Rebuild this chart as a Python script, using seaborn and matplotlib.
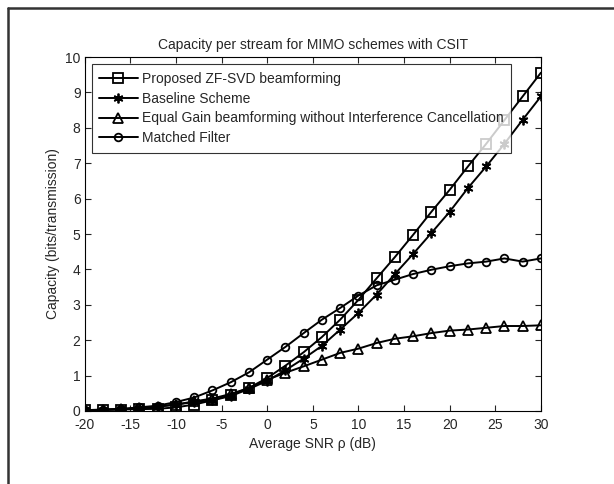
import numpy as np
import pandas as pd
import matplotlib
matplotlib.use('Agg')
import matplotlib.pyplot as plt
import seaborn as sns
from matplotlib.lines import Line2D

# Data
snr_db = list(range(-20, 31, 2))

zf_svd = [0.02, 0.03, 0.04, 0.05, 0.06, 0.10, 0.18, 0.30, 0.45, 0.65, 0.93, 1.28, 1.66,
          2.09, 2.58, 3.14, 3.75, 4.35, 4.98, 5.63, 6.25, 6.91, 7.55, 8.22, 8.89, 9.56]
baseline = [0.02, 0.03, 0.05, 0.07, 0.12, 0.18, 0.25, 0.30, 0.42, 0.62, 0.85, 1.15, 1.48,
            1.84, 2.30, 2.77, 3.29, 3.87, 4.44, 5.03, 5.63, 6.30, 6.91, 7.55, 8.23, 8.89]
equal_gain = [0.02, 0.03, 0.05, 0.07, 0.12, 0.18, 0.27, 0.35, 0.48, 0.65, 0.88, 1.08, 1.26,
              1.45, 1.64, 1.76, 1.92, 2.04, 2.11, 2.20, 2.27, 2.30, 2.35, 2.40, 2.40, 2.42]
matched = [0.02, 0.04, 0.06, 0.10, 0.15, 0.25, 0.38, 0.58, 0.81, 1.09, 1.45, 1.81, 2.20,
           2.58, 2.91, 3.26, 3.55, 3.71, 3.87, 3.99, 4.09, 4.17, 4.22, 4.31, 4.22, 4.31]

series_names = ['Proposed ZF-SVD beamforming', 'Baseline Scheme',
                'Equal Gain beamforming without Interference Cancellation', 'Matched Filter']
series_values = [zf_svd, baseline, equal_gain, matched]
series_markers = ['s', (6, 2, 0), '^', 'o']   # (6, 2, 0) = six-armed asterisk like MATLAB '*'
marker_sizes = [6.5, 7, 7, 5.5]

sns.set_style('ticks')
plt.rcParams['font.family'] = ['Liberation Sans', 'DejaVu Sans']
plt.rcParams['axes.unicode_minus'] = False

fig = plt.figure(figsize=(6.14, 4.84), dpi=100)
ax = fig.add_axes([0.138, 0.151, 0.743, 0.731])

for name, vals, mk, ms in zip(series_names, series_values, series_markers, marker_sizes):
    df = pd.DataFrame({'snr': snr_db, 'cap': vals})
    sns.lineplot(data=df, x='snr', y='cap', ax=ax, color='black', linewidth=1.4,
                 marker=mk, markersize=ms, markerfacecolor='none',
                 markeredgecolor='black', markeredgewidth=1.3, label=name)

ax.set_xlim(-20, 30)
ax.set_ylim(0, 10)
ax.set_xticks(np.arange(-20, 31, 5))
ax.set_yticks(np.arange(0, 11, 1))
ax.tick_params(direction='in', top=True, right=True, labelsize=10, length=4,
               width=0.8)
ax.tick_params(axis='x', pad=5)
ax.tick_params(axis='y', pad=3)
for sp in ax.spines.values():
    sp.set_visible(True)
    sp.set_linewidth(0.8)
    sp.set_color('black')

ax.set_title('Capacity per stream for MIMO schemes with CSIT', fontsize=10, pad=6)
ax.set_xlabel('Average SNR ρ (dB)', fontsize=10, labelpad=4)
ax.set_ylabel('Capacity (bits/transmission)', fontsize=10, labelpad=4)

leg = ax.legend(loc='upper left', fontsize=10, frameon=True, fancybox=False,
                edgecolor='black', handlelength=2.75, handletextpad=0.3,
                borderpad=0.55, labelspacing=0.42, borderaxespad=0.5)
leg.get_frame().set_linewidth(0.8)

# figure frame (left and top edges visible in the reference)
fig.add_artist(Line2D([0.013, 0.013], [0.0, 0.983], transform=fig.transFigure,
                      color='#333333', linewidth=1.8))
fig.add_artist(Line2D([0.013, 1.0], [0.983, 0.983], transform=fig.transFigure,
                      color='#333333', linewidth=1.8))

fig.savefig('out.png', dpi=100)
